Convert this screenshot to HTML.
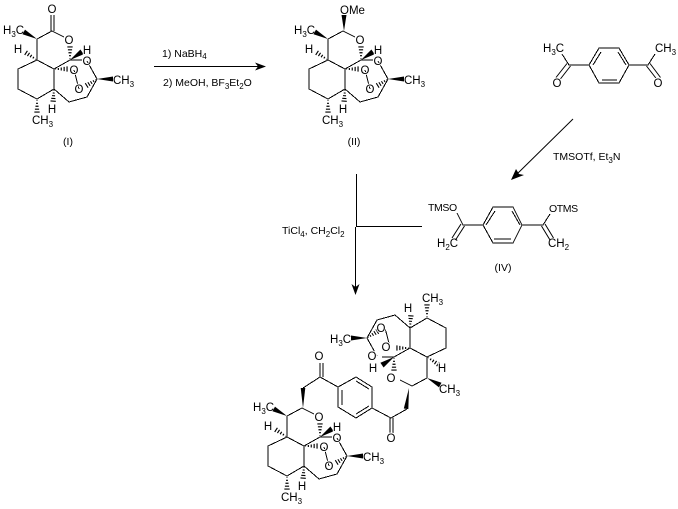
<!DOCTYPE html>
<html>
<head>
<meta charset="utf-8">
<style>
html,body{margin:0;padding:0;background:#fff;width:678px;height:509px;overflow:hidden}
svg{display:block}
text{font-family:"Liberation Sans",sans-serif;font-size:11.5px;fill:#000}
.m{text-anchor:middle;paint-order:stroke;stroke:#fff;stroke-width:2px}
.l{font-size:10.5px}
.t{font-size:10.5px;letter-spacing:-.4px}
.s{font-size:8px}
.b{fill:none;stroke:#000;stroke-width:1;shape-rendering:crispEdges}
.d{fill:none;stroke:#000;stroke-width:1}
</style>
</head>
<body>
<svg width="678" height="509" viewBox="0 0 678 509" xmlns="http://www.w3.org/2000/svg">
<defs>
<!-- unit length 10 hashed and solid wedges, pointing along +x -->
<path id="h" fill="none" stroke="#000" stroke-width=".8" d="M1 -.3V.3M3 -.7V.7M5 -1.1V1.1M7 -1.5V1.5M9 -1.9V1.9"/>
<polygon id="w" points="0,0 10,-1.9 10,1.9"/>
<g id="core">
<path class="b" d="M37 39L52 31L64 37M37 39V60L54 69L70 60H82M37 60L18 69V89L37 99L54 89V69M54 89L69 102L87 97L97 79L87 61M74 70L79 89"/>
<use href="#w" transform="translate(37,39) rotate(208) scale(1.5,1.4)"/>
<use href="#w" transform="translate(70,60) rotate(-34) scale(1.45,1.5)"/>
<use href="#w" transform="translate(97,79) scale(1.6,1.3)"/>
<use href="#h" transform="translate(37,60) rotate(213) scale(1.45,1.3)"/>
<use href="#h" transform="translate(54,69) scale(1.45,1.4)"/>
<use href="#h" transform="translate(97,79) rotate(148) scale(1.35,1.4)"/>
<use href="#h" transform="translate(54,89) rotate(94) scale(1.35,1.4)"/>
<use href="#h" transform="translate(37,99) rotate(90) scale(1.45,1.4)"/>
<use href="#h" transform="translate(70,60) rotate(-90) scale(1.45,1.4)"/>
</g>
</defs>

<!-- (I) -->
<use href="#core"/>
<path class="b" d="M51 31V15M54 31V15"/>
<text class="m" x="52" y="13">O</text>
<text class="m" x="69" y="44">O</text>
<text class="m" x="87" y="65">O</text>
<text class="m" x="74" y="74">O</text>
<text class="m" x="79" y="93">O</text>
<text class="m" x="18" y="53">H</text>
<text class="m" x="87" y="54">H</text>
<text class="m" x="52" y="113">H</text>
<text x="3" y="34">H<tspan class="s" dy="3">3</tspan><tspan dy="-3">C</tspan></text>
<text x="113" y="84">CH<tspan class="s" dy="3">3</tspan></text>
<text x="32" y="124">CH<tspan class="s" dy="3">3</tspan></text>
<text x="68" y="145" text-anchor="middle" class="l">(I)</text>

<!-- (II) -->
<use href="#core" transform="translate(291,0)"/>
<use href="#w" transform="translate(344,31) rotate(-90) scale(1.6,1.3)"/>
<text x="340" y="14">OMe</text>
<text class="m" x="360" y="44">O</text>
<text class="m" x="378" y="65">O</text>
<text class="m" x="365" y="74">O</text>
<text class="m" x="370" y="93">O</text>
<text class="m" x="309" y="53">H</text>
<text class="m" x="378" y="54">H</text>
<text class="m" x="343" y="113">H</text>
<text x="294" y="34">H<tspan class="s" dy="3">3</tspan><tspan dy="-3">C</tspan></text>
<text x="404" y="84">CH<tspan class="s" dy="3">3</tspan></text>
<text x="322" y="124">CH<tspan class="s" dy="3">3</tspan></text>
<text x="354" y="145" text-anchor="middle" class="l">(II)</text>

<!-- Arrow 1 -->
<path class="b" d="M154 66.500H262"/>
<polygon points="266,66.500 255,62.500 258,66.500 255,70.500"/>
<text class="l" x="162" y="57">1) NaBH<tspan class="s" dy="2">4</tspan></text>
<text class="l" x="163" y="86">2) MeOH, BF<tspan class="s" dy="3">3</tspan><tspan dy="-3">Et</tspan><tspan class="s" dy="3">2</tspan><tspan dy="-3">O</tspan></text>

<!-- (III) -->
<path class="b" d="M562 54L569 65H589L599 48H619L629 65H648L655 54M589 65L599 83H619L629 65M593 65L601 52M602 80H617M618 52L626 65"/>
<path class="d" d="M567 63.500L556 77.500M570.500 66L560 79.500M650 63.500L660.500 77.500M646.500 66L657 79.500"/>
<text x="543" y="52">H<tspan class="s" dy="3">3</tspan><tspan dy="-3">C</tspan></text>
<text x="655" y="52">CH<tspan class="s" dy="3">3</tspan></text>
<text class="m" x="557" y="87">O</text>
<text class="m" x="658" y="87">O</text>

<!-- Arrow 2 -->
<path class="d" d="M573 119L515 176"/>
<polygon points="511,180 516,169 519,174 524,175"/>
<text class="l" x="553" y="160">TMSOTf, Et<tspan class="s" dy="3">3</tspan><tspan dy="-3">N</tspan></text>

<!-- (IV) -->
<path class="b" d="M457 213L463 225H483L493 207H513L522 225H543L550 214M483 225L493 243H513L522 225M486 225L495 211M494 239H511M512 211L520 225"/>
<path class="d" d="M464.500 226L455.500 240M461 224L452 238M541.500 226L550 240M545 224L553.500 238"/>
<text class="t" x="428" y="211">TMSO</text>
<text class="t" x="549" y="212">OTMS</text>
<text x="437" y="247">H<tspan class="s" dy="3">2</tspan><tspan dy="-3">C</tspan></text>
<text x="548" y="247">CH<tspan class="s" dy="3">2</tspan></text>
<text x="503" y="271" text-anchor="middle" class="l">(IV)</text>

<!-- Arrow 3 -->
<path class="b" d="M356.500 174V227M355.500 227V290M356.500 226.500H422"/>
<polygon points="355.500,295 351.500,284 355.500,287 359.500,284"/>
<text class="l" x="282" y="234">TiCl<tspan class="s" dy="3">4</tspan><tspan dy="-3">, CH</tspan><tspan class="s" dy="3">2</tspan><tspan dy="-3">Cl</tspan><tspan class="s" dy="3">2</tspan></text>

<!-- Product: lower fragment -->
<use href="#core" transform="translate(250,377)"/>
<use href="#w" transform="translate(303,408) rotate(-90) scale(2,1.2)"/>
<path class="b" d="M303 388L320 377L338 387L356 377L372 387V408L356 418L338 407V387M320 377V363M323 377V363M342 390V405M356 381L369 389M356 414L369 406M372 408L391 418L407 409M390 418V434M393 418V434"/>
<text class="m" x="319" y="360">O</text>
<text class="m" x="391" y="442">O</text>
<text class="m" x="319" y="421">O</text>
<text class="m" x="337" y="442">O</text>
<text class="m" x="324" y="451">O</text>
<text class="m" x="329" y="470">O</text>
<text class="m" x="268" y="430">H</text>
<text class="m" x="337" y="431">H</text>
<text class="m" x="302" y="490">H</text>
<text x="253" y="411">H<tspan class="s" dy="3">3</tspan><tspan dy="-3">C</tspan></text>
<text x="363" y="461">CH<tspan class="s" dy="3">3</tspan></text>
<text x="281" y="501">CH<tspan class="s" dy="3">3</tspan></text>

<!-- Product: upper fragment (rotated 180 degrees) -->
<use href="#core" transform="translate(464,417) rotate(180)"/>
<use href="#w" transform="translate(409,388) rotate(98) scale(2.1,1.2)"/>
<text class="m" x="391" y="382">O</text>
<text class="m" x="372" y="360">O</text>
<text class="m" x="386" y="351">O</text>
<text class="m" x="381" y="332">O</text>
<text class="m" x="442" y="372">H</text>
<text class="m" x="373" y="372">H</text>
<text class="m" x="408" y="312">H</text>
<text x="330" y="343">H<tspan class="s" dy="3">3</tspan><tspan dy="-3">C</tspan></text>
<text x="439" y="393">CH<tspan class="s" dy="3">3</tspan></text>
<text x="422" y="302">CH<tspan class="s" dy="3">3</tspan></text>
</svg>
</body>
</html>
